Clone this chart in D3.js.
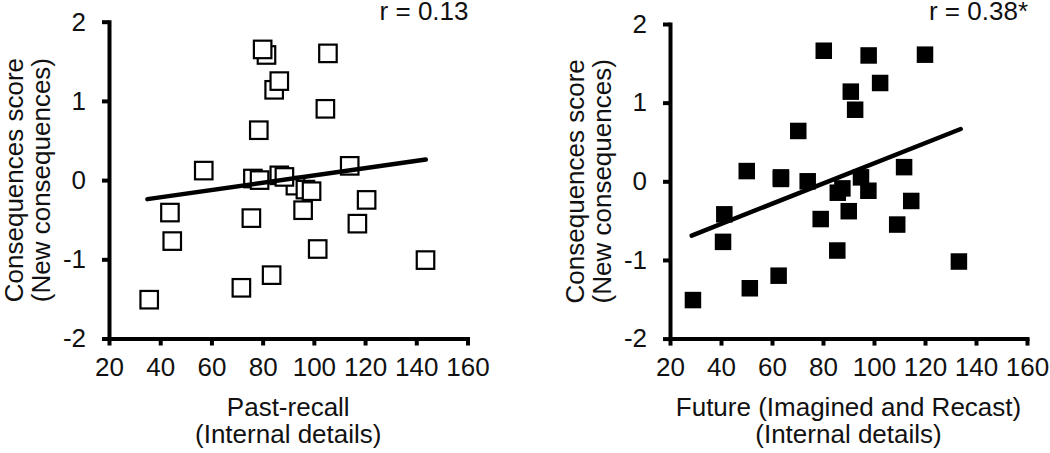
<!DOCTYPE html>
<html>
<head>
<meta charset="utf-8">
<script src="https://cdn.jsdelivr.net/npm/d3@7/dist/d3.min.js"></script>
<style>
  html, body { margin: 0; padding: 0; background: #fff; }
  svg { display: block; }
  text { font-family: "Liberation Sans", Arial, sans-serif; fill: #111; }
</style>
</head>
<body>
<svg id="chart" width="1050" height="453"></svg>
<script>
// ---- data ----
const xTicks = [20, 40, 60, 80, 100, 120, 140, 160];
const yTicks = [-2, -1, 0, 1, 2];
const yTitle = ["Consequences score", "(New consequences)"];

const pastTitle = ["Past-recall", "(Internal details)"];
const pastR = "r = 0.13";
const pastX = [81.5, 80, 105.5, 84.5, 86.5, 104.5, 78.5, 57, 114,
               76.2, 78.8, 92.8, 86.5, 88.5, 96.7, 99.1, 95.8,
               120.6, 43.8, 75.6, 117, 44.7, 101.5, 143.6, 83.5, 71.7, 35.7];
const pastY = [1.58, 1.65, 1.6, 1.14, 1.25, 0.9, 0.63, 0.12, 0.18,
               0.02, 0.0, -0.07, 0.06, 0.04, -0.12, -0.14, -0.38,
               -0.25, -0.41, -0.48, -0.55, -0.77, -0.87, -1.01, -1.2, -1.36, -1.51];
const pastFitX = [35, 143.7];
const pastFitY = [-0.24, 0.26];

const futTitle = ["Future (Imagined and Recast)", "(Internal details)"];
const futR = "r = 0.38*";
const futX = [80.3, 97.9, 120, 102.4, 90.9, 92.6, 70.3, 50.1, 111.8,
              63.5, 63.5, 74, 85.8, 87.6, 94.9, 97.8, 114.6,
              41.3, 79.1, 90.1, 109.1, 40.8, 85.6, 133.3, 62.6, 51.3, 29];
const futY = [1.66, 1.60, 1.61, 1.25, 1.14, 0.91, 0.64, 0.13, 0.18,
              0.03, 0.05, 0.0, -0.145, -0.09, 0.05, -0.12, -0.25,
              -0.42, -0.48, -0.38, -0.55, -0.77, -0.88, -1.02, -1.2, -1.36, -1.51];
const futFitX = [28.5, 134];
const futFitY = [-0.69, 0.665];

// ---- drawing ----
const svg = d3.select("#chart");
const FS = 26;

function panel(cfg) {
  const x = d3.scaleLinear().domain([20, 160]).range([cfg.x0, cfg.x1]);
  const y = d3.scaleLinear().domain([-2, 2]).range([cfg.yb, cfg.yt]);
  const g = svg.append("g");

  // axes
  const xa = g.append("g").attr("transform", `translate(0,${cfg.yb})`)
    .call(d3.axisBottom(x).tickValues(xTicks).tickSize(7).tickSizeOuter(0).tickPadding(12).tickFormat(d => String(d)));
  const ya = g.append("g").attr("transform", `translate(${cfg.x0},0)`)
    .call(d3.axisLeft(y).tickValues(yTicks).tickSize(7).tickSizeOuter(0).tickPadding(16).tickFormat(d => String(d)));
  [xa, ya].forEach(a => {
    a.select(".domain").attr("stroke", "#000").attr("stroke-width", 4).attr("stroke-linecap", "square");
    a.selectAll(".tick line").attr("stroke", "#000").attr("stroke-width", 4);
    a.selectAll(".tick text").attr("font-size", FS).attr("font-family", "Liberation Sans, Arial, sans-serif").attr("fill", "#111");
  });

  // points
  const pts = cfg.xs.map((v, i) => [v, cfg.ys[i]]);
  const s = cfg.size;
  g.append("g").selectAll("rect").data(pts).enter().append("rect")
    .attr("x", d => x(d[0]) - s / 2)
    .attr("y", d => y(d[1]) - s / 2)
    .attr("width", s).attr("height", s)
    .attr("fill", cfg.fill)
    .attr("stroke", "#000")
    .attr("stroke-width", cfg.sw);

  // fit line
  g.append("line")
    .attr("x1", x(cfg.fx[0])).attr("y1", y(cfg.fy[0]))
    .attr("x2", x(cfg.fx[1])).attr("y2", y(cfg.fy[1]))
    .attr("stroke", "#000").attr("stroke-width", 4.5).attr("stroke-linecap", "round");

  // r label
  g.append("text").attr("x", cfg.x1 + 1).attr("y", cfg.rY).attr("text-anchor", "end")
    .attr("font-size", FS).text(cfg.r);

  // x title
  const xc = (cfg.x0 + cfg.x1) / 2;
  g.append("text").attr("x", xc).attr("y", 416).attr("text-anchor", "middle").attr("font-size", FS).text(cfg.title[0]);
  g.append("text").attr("x", xc).attr("y", 443).attr("text-anchor", "middle").attr("font-size", FS).text(cfg.title[1]);

  // y title
  const yc = (cfg.yt + cfg.yb) / 2;
  g.append("text").attr("transform", `translate(${cfg.x0 - 86},${yc}) rotate(-90)`)
    .attr("text-anchor", "middle").attr("font-size", FS).text(yTitle[0]);
  g.append("text").attr("transform", `translate(${cfg.x0 - 59},${yc}) rotate(-90)`)
    .attr("text-anchor", "middle").attr("font-size", FS).text(yTitle[1]);
}

panel({ x0: 109, x1: 467.5, yb: 338.5, yt: 21.7, xs: pastX, ys: pastY, fx: pastFitX, fy: pastFitY,
        fill: "#fff", size: 17.5, sw: 2.2, r: pastR, rY: 20, title: pastTitle });
panel({ x0: 670, x1: 1027, yb: 338.6, yt: 24, xs: futX, ys: futY, fx: futFitX, fy: futFitY,
        fill: "#000", size: 16.5, sw: 0, r: futR, rY: 20, title: futTitle });
</script>
</body>
</html>
